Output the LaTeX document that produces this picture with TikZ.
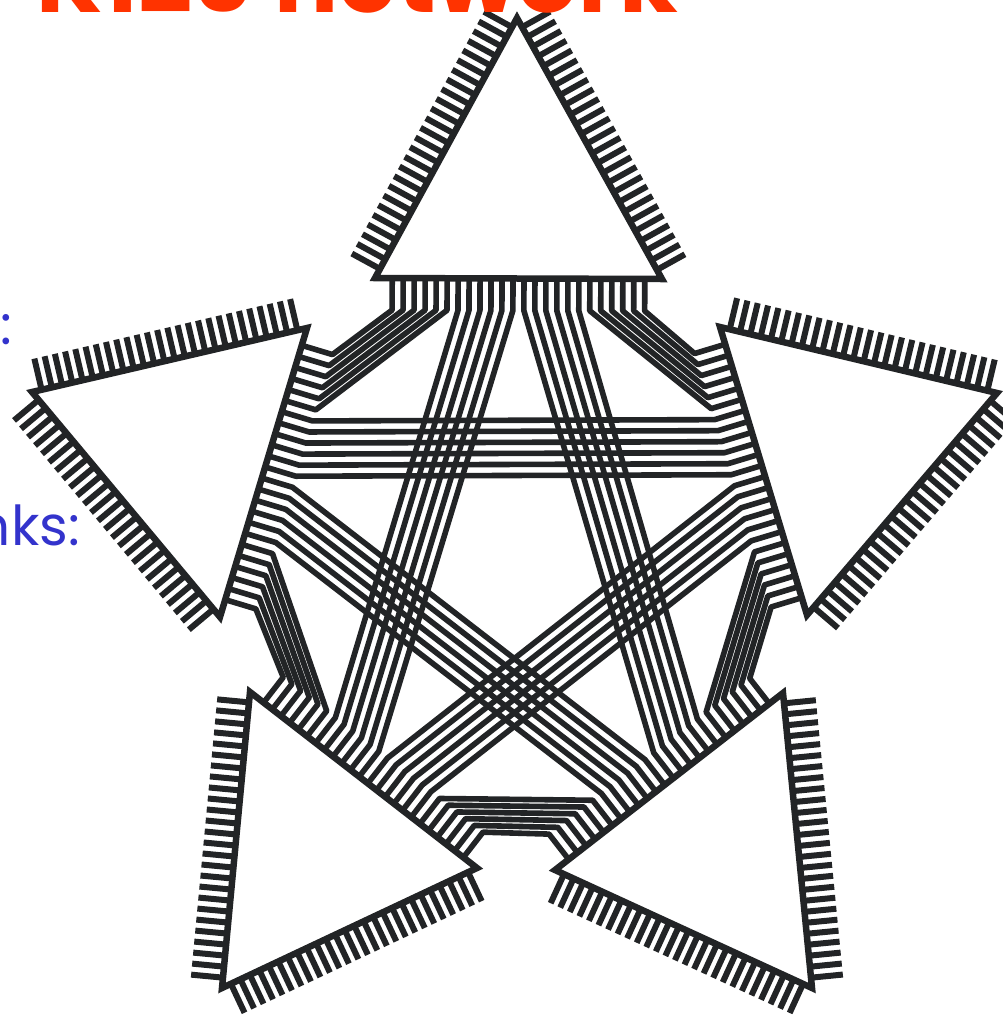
\documentclass[tikz,border=0pt]{standalone}
\usepackage{fontspec}
\setmainfont{Poppins}
\usetikzlibrary{calc}
\definecolor{ink}{RGB}{34,36,38}
\definecolor{titlered}{RGB}{255,51,0}
\definecolor{labelblue}{RGB}{51,51,204}
\begin{document}
\begin{tikzpicture}[x=1pt,y=1pt,
  trishape/.style={draw=ink, fill=white, line width=6.5pt, line join=miter},
  porttick/.style={draw=ink, line width=6pt},
  wire/.style={draw=ink, line width=5.6pt, line join=round},
  titletext/.style={text=titlered, font=\bfseries\fontsize{95}{95}\selectfont, inner sep=0pt},
  labeltext/.style={text=labelblue, font=\fontsize{55}{55}\selectfont, inner sep=0pt}
]
\useasboundingbox (0,0) rectangle (1003,-1018);
% triangle vertices (a->b = inner edge, counter-clockwise order)
\coordinate (t0-a) at (375,-278); \coordinate (t0-b) at (662,-279); \coordinate (t0-c) at (517,-18);
\coordinate (t1-a) at (220,-617); \coordinate (t1-b) at (307,-328); \coordinate (t1-c) at (32,-392);
\coordinate (t2-a) at (477,-868); \coordinate (t2-b) at (250,-692); \coordinate (t2-c) at (222,-988);
\coordinate (t3-a) at (783,-693); \coordinate (t3-b) at (555,-870); \coordinate (t3-c) at (812,-988);
\coordinate (t4-a) at (720,-327); \coordinate (t4-b) at (807,-615); \coordinate (t4-c) at (997,-393);
% inner ports and their tick ends
\foreach \i in {0,...,4}{
  \foreach \k in {0,...,23}{
    \coordinate (p\i-\k) at ($(t\i-a)!{0.06+0.88*\k/23}!(t\i-b)$);
    \coordinate (e\i-\k) at ($(p\i-\k)!32pt!-90:(t\i-b)$);
  }
}
% outer ticks
\foreach \i in {0,...,4}{
  \foreach \q in {0,...,25}{
    \coordinate (ob\i-\q) at ($(t\i-b)!{0.035+0.93*\q/25}!(t\i-c)$);
    \coordinate (oc\i-\q) at ($(t\i-c)!{0.035+0.93*\q/25}!(t\i-a)$);
    \draw[porttick] (ob\i-\q) -- ($(ob\i-\q)!32pt!-90:(t\i-c)$);
    \draw[porttick] (oc\i-\q) -- ($(oc\i-\q)!32pt!-90:(t\i-a)$);
  }
}
% connector bundles
\foreach \i in {0,...,4}{
  \foreach \s in {0,...,3}{
    \pgfmathtruncatemacro{\j}{mod(\i+1+\s,5)}
    \ifnum\i<\j
      \foreach \m in {0,...,5}{
        \pgfmathtruncatemacro{\ka}{6*\s+\m}
        \pgfmathtruncatemacro{\kb}{6*(3-\s)+5-\m}
        \draw[wire] (p\i-\ka) -- (e\i-\ka) -- (e\j-\kb) -- (p\j-\kb);
      }
    \fi
  }
}
% triangles
\foreach \i in {0,...,4}{
  \draw[trishape] (t\i-a) -- (t\i-b) -- (t\i-c) -- cycle;
}
% texts
\node[titletext, anchor=base east] (title) at (678,-12) {K120 network};
\node[labeltext, anchor=base east] (lbl1) at (12,-344) {Nodes:};
\node[labeltext, anchor=base east] (lbl2) at (80,-545) {Links:};
\end{tikzpicture}
\end{document}
